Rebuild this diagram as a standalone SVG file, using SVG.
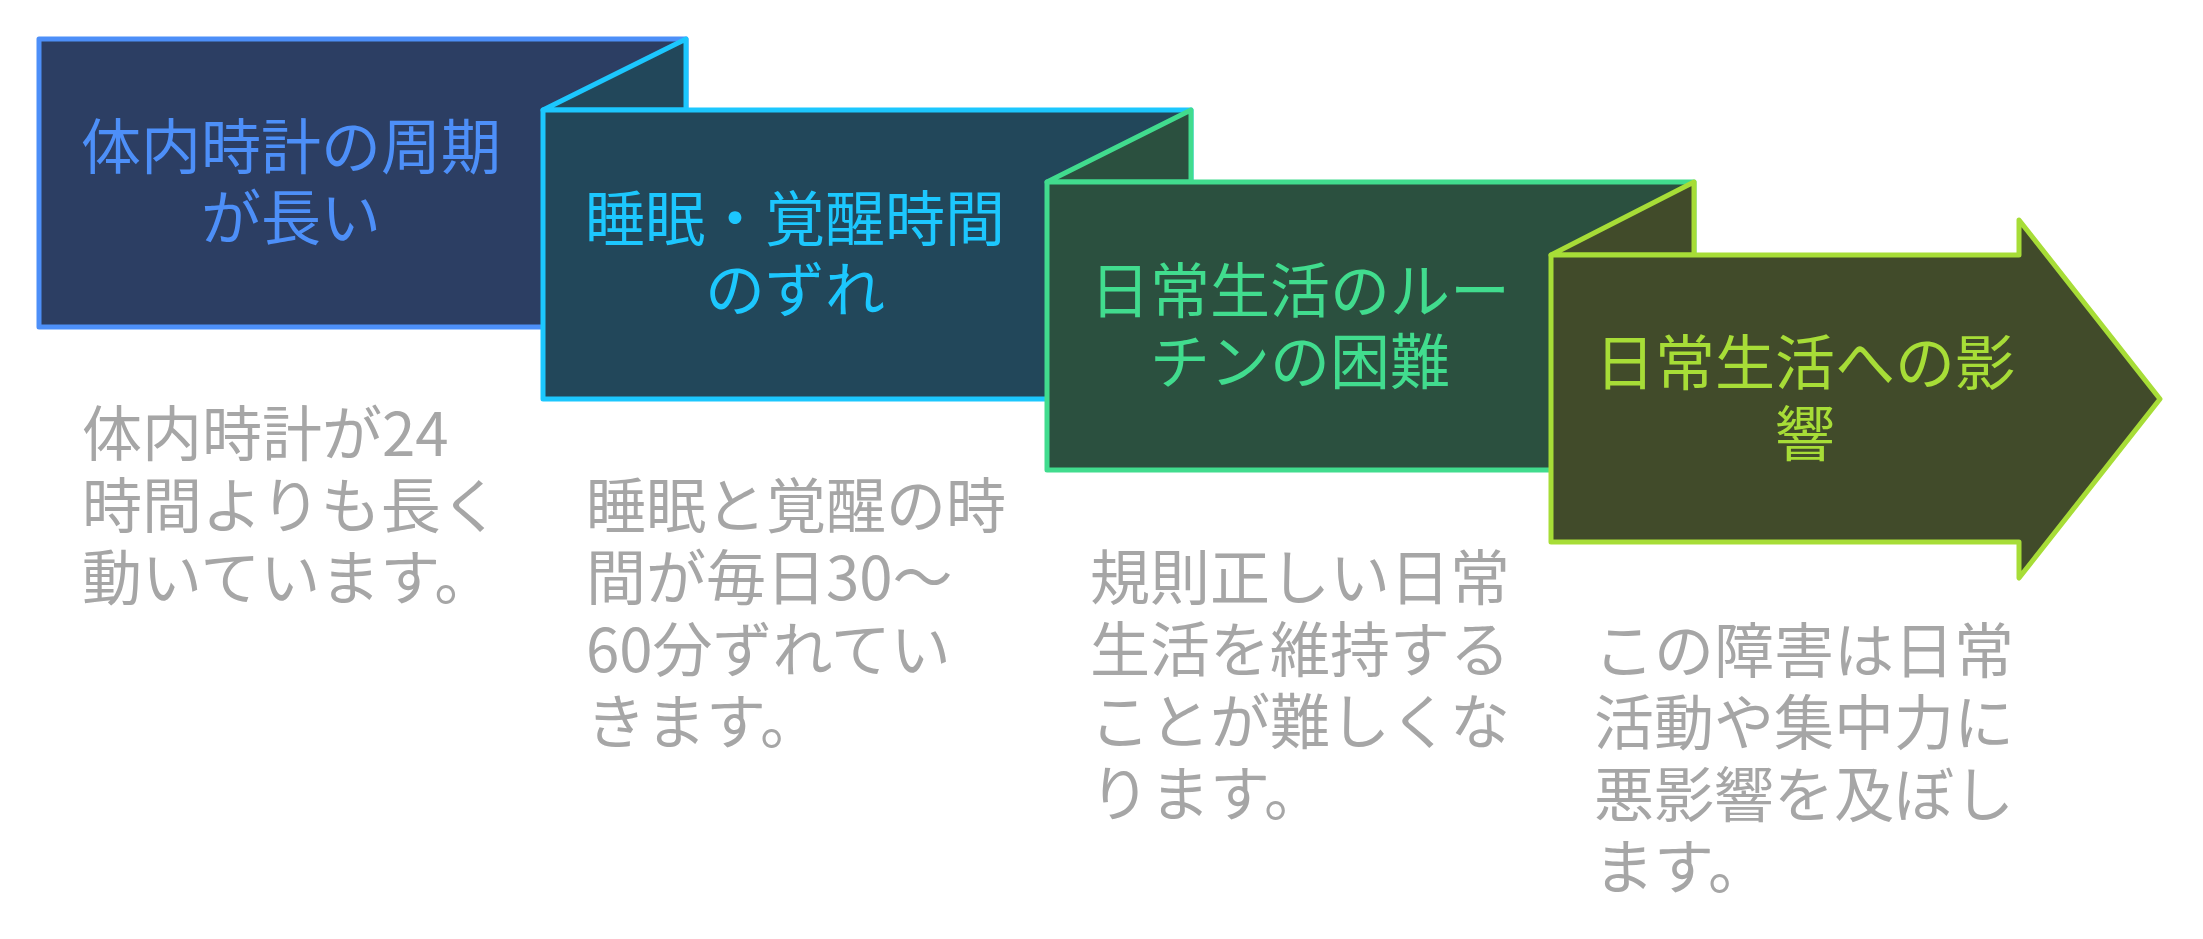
<svg xmlns="http://www.w3.org/2000/svg" width="2203" height="939" viewBox="0 0 2203 939">
<style>
  .shape { stroke-width: 5; stroke-linejoin: round; }
  .title { font-family: "Noto Sans CJK JP", "Noto Sans", sans-serif; font-size: 60px; text-anchor: middle; }
  .desc { font-family: "Noto Sans CJK JP", "Noto Sans", sans-serif; font-size: 60px; fill: #A6A6A6; }
  .n1 { fill: #2C3E63; stroke: #4D8FF8; }
  .n2 { fill: #22475A; stroke: #1CC7FE; }
  .n3 { fill: #2B503F; stroke: #41DC8E; }
  .n4 { fill: #414B2A; stroke: #A7DD37; }
  .t1 { fill: #4D8FF8; }
  .t2 { fill: #1CC7FE; }
  .t3 { fill: #41DC8E; }
  .t4 { fill: #A7DD37; }
</style>
<rect width="2203" height="939" fill="#FFFFFF"/>
<g id="connectors"/>
<g id="node1">
  <rect class="shape n1" x="39" y="39" width="647" height="288"/>
  <text class="title t1" x="291" y="169">体内時計の周期</text>
  <text class="title t1" x="291" y="240">が長い</text>
  <text class="desc" x="82" y="456">体内時計が24</text>
  <text class="desc" x="82" y="528">時間よりも長く</text>
  <text class="desc" x="82" y="600">動いています。</text>
</g>
<g id="node2">
  <polygon class="shape n2" points="543,110 686,39 686,110"/>
  <rect class="shape n2" x="543" y="110" width="648" height="289"/>
  <text class="title t2" x="795" y="241">睡眠・覚醒時間</text>
  <text class="title t2" x="795" y="312">のずれ</text>
  <text class="desc" x="586" y="528">睡眠と覚醒の時</text>
  <text class="desc" x="586" y="600">間が毎日30〜</text>
  <text class="desc" x="586" y="672">60分ずれてい</text>
  <text class="desc" x="586" y="744">きます。</text>
</g>
<g id="node3">
  <polygon class="shape n3" points="1047,182 1191,110 1191,182"/>
  <rect class="shape n3" x="1047" y="182" width="647" height="288"/>
  <text class="title t3" x="1300" y="313">日常生活のルー</text>
  <text class="title t3" x="1300" y="384">チンの困難</text>
  <text class="desc" x="1090" y="600">規則正しい日常</text>
  <text class="desc" x="1090" y="672">生活を維持する</text>
  <text class="desc" x="1090" y="744">ことが難しくな</text>
  <text class="desc" x="1090" y="816">ります。</text>
</g>
<g id="node4">
  <polygon class="shape n4" points="1551,255 1694,182 1694,255"/>
  <path class="shape n4" d="M1551,255 L2019,255 L2019,220 L2160,399 L2019,578 L2019,542 L1551,542 Z"/>
  <text class="title t4" x="1805" y="385">日常生活への影</text>
  <text class="title t4" x="1805" y="456">響</text>
  <text class="desc" x="1594" y="673">この障害は日常</text>
  <text class="desc" x="1594" y="745">活動や集中力に</text>
  <text class="desc" x="1594" y="817">悪影響を及ぼし</text>
  <text class="desc" x="1594" y="889">ます。</text>
</g>
</svg>
